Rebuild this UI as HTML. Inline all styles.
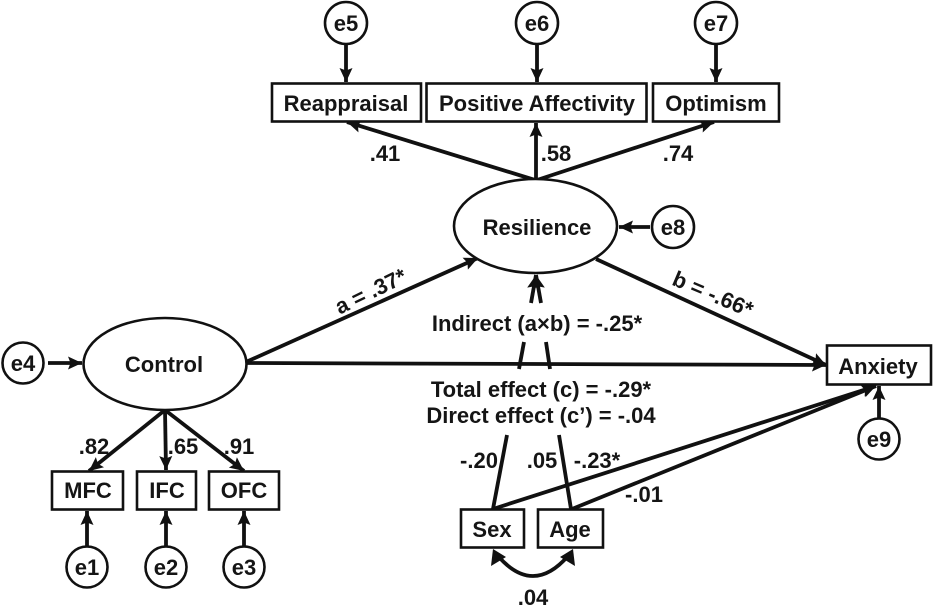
<!DOCTYPE html>
<html><head><meta charset="utf-8"><style>
html,body{margin:0;padding:0;background:#fff;width:933px;height:607px;overflow:hidden}
svg{display:block}
text{font-family:"Liberation Sans",sans-serif;font-weight:bold;fill:#151515;font-size:22px;text-anchor:middle}
.n{fill:#fff;stroke:#111;stroke-width:2.6}
.l{stroke:#111;stroke-width:3.8;fill:none}
</style></head><body>
<svg width="933" height="607" viewBox="0 0 933 607" xmlns="http://www.w3.org/2000/svg">
<defs>
<marker id="a" markerUnits="userSpaceOnUse" markerWidth="15" markerHeight="14" refX="14" refY="7" orient="auto"><path d="M0 0.5L14 7L0 13.5L2.5 7Z" fill="#111"/></marker>
</defs>
<!-- connectors -->
<g class="l">
<path d="M346 44V82" marker-end="url(#a)"/>
<path d="M537 44V82" marker-end="url(#a)"/>
<path d="M716 44V82" marker-end="url(#a)"/>
<path d="M535 180L347 122" marker-end="url(#a)"/>
<path d="M536 180V123" marker-end="url(#a)"/>
<path d="M537 180L714 122" marker-end="url(#a)"/>
<path d="M650 227H619" marker-end="url(#a)"/>
<path d="M246 362L478 258" marker-end="url(#a)"/>
<path d="M246 363L826 365" marker-end="url(#a)"/>
<path d="M596 259L826 365" marker-end="url(#a)"/>
<path d="M48 363H82" marker-end="url(#a)"/>
<path d="M165 410L89 471" marker-end="url(#a)"/>
<path d="M165 410L166 470" marker-end="url(#a)"/>
<path d="M165 410L244 471" marker-end="url(#a)"/>
<path d="M87 547V511" marker-end="url(#a)"/>
<path d="M166 547V511" marker-end="url(#a)"/>
<path d="M244 547V511" marker-end="url(#a)"/>
<path d="M879 419V386" marker-end="url(#a)"/>
<path d="M493 509L876 386" marker-end="url(#a)"/>
<path d="M572 509L876 386" marker-end="url(#a)"/>
<path d="M493 509L507 435"/>
<path d="M571 509L559 435"/>
<path d="M519 369L524 342"/>
<path d="M550 369L546 342"/>
<path d="M531 303L536 275" marker-end="url(#a)"/>
<path d="M541 303L536 275" marker-end="url(#a)"/>
<path d="M498 556Q533 596 568 556"/>
</g>
<path d="M493 549L491 566L506 557Z" fill="#111"/>
<path d="M573 549L575 566L560 557Z" fill="#111"/>
<!-- nodes -->
<ellipse class="n" cx="535.500" cy="226" rx="81.500" ry="47"/>
<ellipse class="n" cx="165" cy="364" rx="81.500" ry="46"/>
<rect class="n" x="272" y="83.500" width="149" height="38"/>
<rect class="n" x="426.500" y="83.500" width="220" height="38"/>
<rect class="n" x="653" y="83.500" width="126" height="38"/>
<rect class="n" x="52" y="471.500" width="71" height="38"/>
<rect class="n" x="137" y="471.500" width="59" height="38"/>
<rect class="n" x="209" y="471.500" width="70" height="38"/>
<rect class="n" x="827" y="345.500" width="104" height="39"/>
<rect class="n" x="461" y="509.500" width="63" height="38"/>
<rect class="n" x="538" y="509.500" width="65" height="38"/>
<circle class="n" cx="346" cy="23" r="21"/>
<circle class="n" cx="537" cy="23" r="21"/>
<circle class="n" cx="716" cy="23" r="21"/>
<circle class="n" cx="673" cy="227" r="21"/>
<circle class="n" cx="23" cy="363" r="20.500"/>
<circle class="n" cx="87" cy="567" r="20.500"/>
<circle class="n" cx="166" cy="567" r="20.500"/>
<circle class="n" cx="244" cy="567" r="20.500"/>
<circle class="n" cx="879" cy="439" r="20.500"/>
<!-- labels -->
<text x="346" y="31">e5</text><text x="537" y="31">e6</text><text x="716" y="31">e7</text>
<text x="673" y="235">e8</text><text x="23" y="371">e4</text>
<text x="87" y="575">e1</text><text x="166" y="575">e2</text><text x="244" y="575">e3</text>
<text x="879" y="447">e9</text>
<text x="346" y="111">Reappraisal</text>
<text x="537" y="111">Positive Affectivity</text>
<text x="716" y="111">Optimism</text>
<text x="537" y="235">Resilience</text>
<text x="164" y="372">Control</text>
<text x="88" y="498">MFC</text><text x="167" y="498">IFC</text><text x="244" y="498">OFC</text>
<text x="878" y="374">Anxiety</text>
<text x="492" y="537">Sex</text><text x="570" y="537">Age</text>
<text x="385" y="161">.41</text><text x="556" y="161">.58</text><text x="678" y="161">.74</text>
<text x="94" y="454">.82</text><text x="183" y="454">.65</text><text x="239" y="454">.91</text>
<text x="537" y="331">Indirect (a×b) = -.25*</text>
<text x="541" y="397">Total effect (c) = -.29*</text>
<text x="541" y="423">Direct effect (c’) = -.04</text>
<text x="479" y="468">-.20</text><text x="542" y="468">.05</text><text x="597" y="468">-.23*</text>
<text x="644" y="502">-.01</text><text x="533" y="605">.04</text>
<text transform="translate(374 298) rotate(-26)">a = .37*</text>
<text transform="translate(710 301) rotate(23)">b = -.66*</text>
</svg>
</body></html>
